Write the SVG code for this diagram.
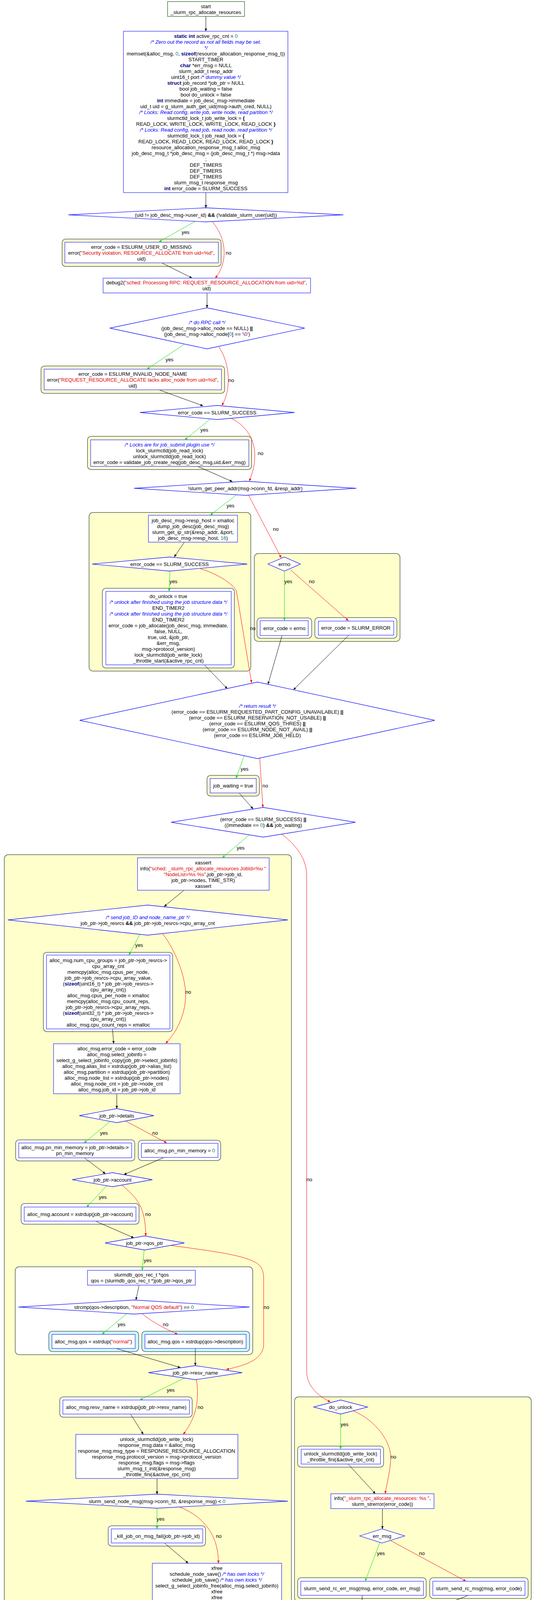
<svg xmlns="http://www.w3.org/2000/svg" width="1408" height="4334" viewBox="0 0 1408 4334">
<defs>
<style>
.t{font-family:"Liberation Sans",Arial,sans-serif;font-size:13px;text-anchor:middle;fill:#000}
.kw{font-weight:bold;fill:#000080}
.cm{font-style:italic;fill:#0000ff}
.st{fill:#dd0000}
.nu{fill:#008080}
.ch{fill:#800080}
.b{font-weight:bold}
.box{fill:#fff;stroke:#5a5aff;stroke-width:1.6}
.dia{fill:#fff;stroke:#1e1eff;stroke-width:1.3}
.cly{fill:#ffffcc;stroke:#556655;stroke-width:1.5}
.clw{fill:#fff;stroke:#556655;stroke-width:1.5}
.clc{fill:#ccffff;stroke:#556655;stroke-width:1.5}
.e{fill:none;stroke:#000;stroke-width:1}
.ey{fill:none;stroke:#00e000;stroke-width:1}
.en{fill:none;stroke:#ff0000;stroke-width:1}
</style>
<marker id="ab" markerWidth="8" markerHeight="8" refX="7" refY="3" orient="auto" markerUnits="userSpaceOnUse"><path d="M0,0 L7,3 L0,6 z" fill="#000"/></marker>
<marker id="ag" markerWidth="8" markerHeight="8" refX="7" refY="3" orient="auto" markerUnits="userSpaceOnUse"><path d="M0,0 L7,3 L0,6 z" fill="#00e000"/></marker>
<marker id="ar" markerWidth="8" markerHeight="8" refX="7" refY="3" orient="auto" markerUnits="userSpaceOnUse"><path d="M0,0 L7,3 L0,6 z" fill="#ff0000"/></marker>
</defs>
<rect x="0" y="0" width="1408" height="4334" fill="#fff"/>

<g id="clusters">
<rect class="cly" x="159" y="612" width="407" height="70" rx="9"/>
<rect class="cly" x="105" y="937" width="470" height="70" rx="9"/>
<rect class="cly" x="224" y="1117" width="420" height="85" rx="9"/>
<rect class="cly" x="228" y="1312" width="414" height="406" rx="10"/>
<rect class="clw" x="262" y="1506" width="338" height="204" rx="9"/>
<rect class="cly" x="651" y="1417" width="373" height="225" rx="10"/>
<rect class="clw" x="658" y="1582" width="140" height="52" rx="9"/>
<rect class="clw" x="806" y="1581" width="210" height="53" rx="9"/>
<rect class="cly" x="530" y="1985" width="134" height="53" rx="9"/>
<rect class="cly" x="11" y="2188" width="735" height="1950" rx="10"/>
<rect class="clw" x="111" y="2438" width="331" height="203" rx="9"/>
<rect class="clw" x="40" y="2918" width="305" height="54" rx="9"/>
<rect class="clw" x="354" y="2919" width="211" height="52" rx="9"/>
<rect class="clw" x="54" y="3081" width="302" height="53" rx="9"/>
<rect class="clw" x="39" y="3243" width="608" height="225" rx="10"/>
<rect class="clc" x="125" y="3408" width="230" height="52" rx="9"/>
<rect class="clc" x="363" y="3408" width="276" height="52" rx="9"/>
<rect class="clw" x="153" y="3576" width="339" height="52" rx="9"/>
<rect class="clw" x="277" y="3906" width="249" height="52" rx="9"/>
<rect class="cly" x="754" y="3576" width="606" height="524" rx="10"/>
<rect class="clw" x="762" y="3702" width="220" height="54" rx="9"/>
<rect class="clw" x="762" y="4039" width="329" height="53" rx="9"/>
<rect class="clw" x="1100" y="4039" width="252" height="53" rx="9"/>
</g>

<g id="connectors">
<path class="e" marker-end="url(#ab)" d="M527,42 L527,80"/>
<path class="e" marker-end="url(#ab)" d="M527,493 L527,532"/>
<path class="e" marker-end="url(#ab)" d="M414,673 L492,712"/>
<path class="e" marker-end="url(#ab)" d="M530,750 L530,788"/>
<path class="e" marker-end="url(#ab)" d="M407,998 L520,1039"/>
<path class="e" marker-end="url(#ab)" d="M506,1194 L595,1233"/>
<path class="e" marker-end="url(#ab)" d="M472,1388 L446,1426"/>
<path class="e" marker-end="url(#ab)" d="M523,1702 L582,1763"/>
<path class="e" marker-end="url(#ab)" d="M722,1627 L686,1752"/>
<path class="e" marker-end="url(#ab)" d="M893,1626 L751,1766"/>
<path class="e" marker-end="url(#ab)" d="M612,2030 L648,2071"/>
<path class="e" marker-end="url(#ab)" d="M471,2279 L420,2321"/>
<path class="e" marker-end="url(#ab)" d="M288,2634 L291,2672"/>
<path class="e" marker-end="url(#ab)" d="M299,2800 L299,2838"/>
<path class="e" marker-end="url(#ab)" d="M216,2964 L270,3005"/>
<path class="e" marker-end="url(#ab)" d="M420,2963 L317,3007"/>
<path class="e" marker-end="url(#ab)" d="M244,3126 L343,3169"/>
<path class="e" marker-end="url(#ab)" d="M356,3290 L348,3328"/>
<path class="e" marker-end="url(#ab)" d="M297,3452 L462,3501"/>
<path class="e" marker-end="url(#ab)" d="M500,3452 L500,3496"/>
<path class="e" marker-end="url(#ab)" d="M334,3620 L367,3672"/>
<path class="e" marker-end="url(#ab)" d="M402,3785 L402,3825"/>
<path class="e" marker-end="url(#ab)" d="M421,3950 L482,4002"/>
<path class="e" marker-end="url(#ab)" d="M721,4127 L900,4177"/>
<path class="e" marker-end="url(#ab)" d="M891,3748 L961,3824"/>
<path class="e" marker-end="url(#ab)" d="M979,3862 L979,3914"/>
<path class="e" marker-end="url(#ab)" d="M927,4084 L927,4167"/>
<path class="e" marker-end="url(#ab)" d="M1199,4084 L954,4179"/>
<path class="e" marker-end="url(#ab)" d="M927,4204 L927,4242"/>

<path class="ey" marker-end="url(#ag)" d="M499,567 L407,619"/>
<path class="ey" marker-end="url(#ag)" d="M471,882 L376,945"/>
<path class="ey" marker-end="url(#ag)" d="M538,1073 L473,1126"/>
<path class="ey" marker-end="url(#ag)" d="M606,1266 L538,1319"/>
<path class="ey" marker-end="url(#ag)" d="M435,1462 L433,1514"/>
<path class="ey" marker-end="url(#ag)" d="M728,1462 L728,1589"/>
<path class="ey" marker-end="url(#ag)" d="M625,1935 L604,1993"/>
<path class="ey" marker-end="url(#ag)" d="M637,2138 L569,2196"/>
<path class="ey" marker-end="url(#ag)" d="M358,2392 L330,2445"/>
<path class="ey" marker-end="url(#ag)" d="M282,2871 L215,2926"/>
<path class="ey" marker-end="url(#ag)" d="M273,3036 L222,3090"/>
<path class="ey" marker-end="url(#ag)" d="M369,3200 L364,3252"/>
<path class="ey" marker-end="url(#ag)" d="M324,3363 L261,3416"/>
<path class="ey" marker-end="url(#ag)" d="M472,3528 L358,3584"/>
<path class="ey" marker-end="url(#ag)" d="M402,3861 L402,3914"/>
<path class="ey" marker-end="url(#ag)" d="M872,3620 L872,3710"/>
<path class="ey" marker-end="url(#ag)" d="M973,3947 L935,4048"/>

<path class="en" marker-end="url(#ar)" d="M543,567 C580,610 585,670 551,712"/>
<path class="en" marker-end="url(#ar)" d="M560,888 C590,930 592,1000 568,1038"/>
<path class="en" marker-end="url(#ar)" d="M592,1071 C650,1100 668,1160 638,1232"/>
<path class="en" marker-end="url(#ar)" d="M636,1267 L720,1428"/>
<path class="en" marker-end="url(#ar)" d="M513,1456 C560,1470 595,1495 605,1512 L644,1748"/>
<path class="en" marker-end="url(#ar)" d="M744,1459 L892,1589"/>
<path class="en" marker-end="url(#ar)" d="M665,1941 L673,2067"/>
<path class="en" marker-end="url(#ar)" d="M722,2136 C760,2165 785,2200 785,2240 L785,3510 C785,3545 810,3572 846,3589"/>
<path class="en" marker-end="url(#ar)" d="M416,2390 C440,2420 470,2480 475,2537 C478,2590 455,2640 424,2671"/>
<path class="en" marker-end="url(#ar)" d="M322,2870 L427,2926"/>
<path class="en" marker-end="url(#ar)" d="M311,3033 C350,3065 373,3090 373,3164"/>
<path class="en" marker-end="url(#ar)" d="M435,3188 C560,3205 640,3215 665,3240 C673,3250 675,3260 675,3275 L675,3440 C675,3480 630,3495 579,3506"/>
<path class="en" marker-end="url(#ar)" d="M364,3363 C390,3385 420,3400 455,3416"/>
<path class="en" marker-end="url(#ar)" d="M503,3532 C508,3570 510,3620 469,3672"/>
<path class="en" marker-end="url(#ar)" d="M457,3857 C520,3880 560,3930 559,4002"/>
<path class="en" marker-end="url(#ar)" d="M903,3611 C970,3640 1005,3700 1000,3740 C998,3770 990,3800 986,3824"/>
<path class="en" marker-end="url(#ar)" d="M1000,3944 L1193,4048"/>

<g class="t">
<text class="t" x="475" y="599">yes</text>
<text class="t" x="585" y="652">no</text>
<text class="t" x="434" y="925">yes</text>
<text class="t" x="592" y="978">no</text>
<text class="t" x="523" y="1105">yes</text>
<text class="t" x="667" y="1165">no</text>
<text class="t" x="590" y="1299">yes</text>
<text class="t" x="706" y="1359">no</text>
<text class="t" x="444" y="1493">yes</text>
<text class="t" x="647" y="1613">no</text>
<text class="t" x="738" y="1493">yes</text>
<text class="t" x="798" y="1493">no</text>
<text class="t" x="626" y="1973">yes</text>
<text class="t" x="679" y="2016">no</text>
<text class="t" x="616" y="2175">yes</text>
<text class="t" x="792" y="3024">no</text>
<text class="t" x="356" y="2424">yes</text>
<text class="t" x="482" y="2544">no</text>
<text class="t" x="266" y="2905">yes</text>
<text class="t" x="397" y="2905">no</text>
<text class="t" x="263" y="3069">yes</text>
<text class="t" x="379" y="3113">no</text>
<text class="t" x="378" y="3231">yes</text>
<text class="t" x="682" y="3351">no</text>
<text class="t" x="311" y="3395">yes</text>
<text class="t" x="424" y="3395">no</text>
<text class="t" x="437" y="3563">yes</text>
<text class="t" x="513" y="3607">no</text>
<text class="t" x="411" y="3893">yes</text>
<text class="t" x="560" y="3937">no</text>
<text class="t" x="882" y="3651">yes</text>
<text class="t" x="1007" y="3734">no</text>
<text class="t" x="975" y="3981">yes</text>
<text class="t" x="1080" y="3981">no</text>
</g>
</g>

<g id="n_start">
<rect x="429" y="4" width="197" height="38" fill="#fff" stroke="#558055" stroke-width="1.6"/>
<text class="t" x="527" y="21">start</text>
<text class="t" x="527" y="36">_slurm_rpc_allocate_resources</text>
</g>

<g id="n_decl">
<rect class="box" x="316" y="80" width="421" height="413"/>
<text class="t" x="527" y="97"><tspan class="kw">static int</tspan> active_rpc_cnt = <tspan class="nu">0</tspan></text>
<text class="t cm" x="527" y="112">/* Zero out the record as not all fields may be set.</text>
<text class="t cm" x="527" y="127">*/</text>
<text class="t" x="527" y="142">memset(&amp;alloc_msg, <tspan class="nu">0</tspan>, <tspan class="kw">sizeof</tspan>(resource_allocation_response_msg_t))</text>
<text class="t" x="527" y="157">START_TIMER</text>
<text class="t" x="527" y="172"><tspan class="kw">char</tspan> *err_msg = NULL</text>
<text class="t" x="527" y="187">slurm_addr_t resp_addr</text>
<text class="t" x="527" y="202">uint16_t port <tspan class="cm">/* dummy value */</tspan></text>
<text class="t" x="527" y="217"><tspan class="kw">struct</tspan> job_record *job_ptr = NULL</text>
<text class="t" x="527" y="232">bool job_waiting = false</text>
<text class="t" x="527" y="247">bool do_unlock = false</text>
<text class="t" x="527" y="262"><tspan class="kw">int</tspan> immediate = job_desc_msg-&gt;immediate</text>
<text class="t" x="527" y="277">uid_t uid = g_slurm_auth_get_uid(msg-&gt;auth_cred, NULL)</text>
<text class="t cm" x="527" y="292">/* Locks: Read config, write job, write node, read partition */</text>
<text class="t" x="527" y="307">slurmctld_lock_t job_write_lock = <tspan class="b">{</tspan></text>
<text class="t" x="527" y="322">READ_LOCK, WRITE_LOCK, WRITE_LOCK, READ_LOCK <tspan class="b">}</tspan></text>
<text class="t cm" x="527" y="337">/* Locks: Read config, read job, read node, read partition */</text>
<text class="t" x="527" y="352">slurmctld_lock_t job_read_lock = <tspan class="b">{</tspan></text>
<text class="t" x="527" y="367">READ_LOCK, READ_LOCK, READ_LOCK, READ_LOCK <tspan class="b">}</tspan></text>
<text class="t" x="527" y="382">resource_allocation_response_msg_t alloc_msg</text>
<text class="t" x="527" y="397">job_desc_msg_t *job_desc_msg = (job_desc_msg_t *) msg-&gt;data</text>
<text class="t" x="527" y="412">;</text>
<text class="t" x="527" y="427">DEF_TIMERS</text>
<text class="t" x="527" y="442">DEF_TIMERS</text>
<text class="t" x="527" y="457">DEF_TIMERS</text>
<text class="t" x="527" y="472">slurm_msg_t response_msg</text>
<text class="t" x="527" y="487"><tspan class="kw">int</tspan> error_code = SLURM_SUCCESS</text>
</g>

<g id="d_uid">
<polygon class="dia" points="175,550 527,532 879,550 527,568"/>
<text class="t" x="527" y="555">(uid != job_desc_msg-&gt;user_id) <tspan class="b">&amp;&amp;</tspan> (!validate_slurm_user(uid))</text>
</g>

<g id="n_uid_missing">
<rect class="box" x="166" y="620" width="393" height="53"/>
<text class="t" x="362" y="637">error_code = ESLURM_USER_ID_MISSING</text>
<text class="t" x="362" y="652">error(<tspan class="st">"Security violation, RESOURCE_ALLOCATE from uid=%d"</tspan>,</text>
<text class="t" x="362" y="667">uid)</text>
</g>

<g id="n_debug2">
<rect class="box" x="264" y="712" width="531" height="38"/>
<text class="t" x="529" y="728">debug2(<tspan class="st">"sched: Processing RPC: REQUEST_RESOURCE_ALLOCATION from uid=%d"</tspan>,</text>
<text class="t" x="529" y="743">uid)</text>
</g>

<g id="d_alloc_node">
<polygon class="dia" points="281,840 530,788 780,840 530,893"/>
<text class="t cm" x="530" y="830">/* do RPC call */</text>
<text class="t" x="530" y="845">(job_desc_msg-&gt;alloc_node == NULL) <tspan class="b">||</tspan></text>
<text class="t" x="530" y="860">(job_desc_msg-&gt;alloc_node[<tspan class="nu">0</tspan>] == <tspan class="ch">'\0'</tspan>)</text>
</g>

<g id="n_invalid_node">
<rect class="box" x="113" y="945" width="454" height="53"/>
<text class="t" x="340" y="962">error_code = ESLURM_INVALID_NODE_NAME</text>
<text class="t" x="340" y="977">error(<tspan class="st">"REQUEST_RESOURCE_ALLOCATE lacks alloc_node from uid=%d"</tspan>,</text>
<text class="t" x="340" y="992">uid)</text>
</g>

<g id="d_success1">
<polygon class="dia" points="358,1056 556,1038 754,1056 556,1074"/>
<text class="t" x="556" y="1061">error_code == SLURM_SUCCESS</text>
</g>

<g id="n_validate">
<rect class="box" x="232" y="1126" width="405" height="68"/>
<text class="t cm" x="434" y="1143">/* Locks are for job_submit plugin use */</text>
<text class="t" x="434" y="1158">lock_slurmctld(job_read_lock)</text>
<text class="t" x="434" y="1173">unlock_slurmctld(job_read_lock)</text>
<text class="t" x="434" y="1188">error_code = validate_job_create_req(job_desc_msg,uid,&amp;err_msg)</text>
</g>

<g id="d_peer">
<polygon class="dia" points="343,1250 628,1232 912,1250 628,1268"/>
<text class="t" x="628" y="1255">!slurm_get_peer_addr(msg-&gt;conn_fd, &amp;resp_addr)</text>
</g>

<g id="n_resp_host">
<rect class="box" x="380" y="1319" width="228" height="69"/>
<text class="t" x="494" y="1337">job_desc_msg-&gt;resp_host = xmalloc</text>
<text class="t" x="494" y="1352">dump_job_desc(job_desc_msg)</text>
<text class="t" x="494" y="1367">slurm_get_ip_str(&amp;resp_addr, &amp;port,</text>
<text class="t" x="494" y="1382">job_desc_msg-&gt;resp_host, <tspan class="nu">16</tspan>)</text>
</g>

<g id="d_success2">
<polygon class="dia" points="236,1444 434,1426 633,1444 434,1462"/>
<text class="t" x="434" y="1449">error_code == SLURM_SUCCESS</text>
</g>

<g id="n_job_allocate">
<rect class="box" x="271" y="1514" width="321" height="188"/>
<text class="t" x="431" y="1531">do_unlock = true</text>
<text class="t cm" x="431" y="1546">/* unlock after finished using the job structure data */</text>
<text class="t" x="431" y="1561">END_TIMER2</text>
<text class="t cm" x="431" y="1576">/* unlock after finished using the job structure data */</text>
<text class="t" x="431" y="1591">END_TIMER2</text>
<text class="t" x="431" y="1606">error_code = job_allocate(job_desc_msg, immediate,</text>
<text class="t" x="431" y="1621">false, NULL,</text>
<text class="t" x="431" y="1636">true, uid, &amp;job_ptr,</text>
<text class="t" x="431" y="1651">&amp;err_msg,</text>
<text class="t" x="431" y="1666">msg-&gt;protocol_version)</text>
<text class="t" x="431" y="1681">lock_slurmctld(job_write_lock)</text>
<text class="t" x="431" y="1696">_throttle_start(&amp;active_rpc_cnt)</text>
</g>

<g id="d_errno">
<polygon class="dia" points="686,1444 728,1426 769,1444 728,1462"/>
<text class="t" x="728" y="1449">errno</text>
</g>

<g id="n_errno">
<rect class="box" x="666" y="1589" width="123" height="38"/>
<text class="t" x="728" y="1613">error_code = errno</text>
</g>

<g id="n_slurm_error">
<rect class="box" x="815" y="1590" width="193" height="36"/>
<text class="t" x="911" y="1612">error_code = SLURM_ERROR</text>
</g>

<g id="d_return">
<polygon class="dia" points="204,1844 659,1746 1113,1844 659,1942"/>
<text class="t cm" x="659" y="1812">/* return result */</text>
<text class="t" x="659" y="1827">(error_code == ESLURM_REQUESTED_PART_CONFIG_UNAVAILABLE) <tspan class="b">||</tspan></text>
<text class="t" x="659" y="1842">(error_code == ESLURM_RESERVATION_NOT_USABLE) <tspan class="b">||</tspan></text>
<text class="t" x="659" y="1857">(error_code == ESLURM_QOS_THRES) <tspan class="b">||</tspan></text>
<text class="t" x="659" y="1872">(error_code == ESLURM_NODE_NOT_AVAIL) <tspan class="b">||</tspan></text>
<text class="t" x="659" y="1887">(error_code == ESLURM_JOB_HELD)</text>
</g>

<g id="n_job_waiting">
<rect class="box" x="538" y="1993" width="118" height="37"/>
<text class="t" x="597" y="2016">job_waiting = true</text>
</g>

<g id="d_success3">
<polygon class="dia" points="438,2105 674,2067 910,2105 674,2143"/>
<text class="t" x="674" y="2102">(error_code == SLURM_SUCCESS) <tspan class="b">||</tspan></text>
<text class="t" x="674" y="2117">((immediate == <tspan class="nu">0</tspan>) <tspan class="b">&amp;&amp;</tspan> job_waiting)</text>
</g>

<g id="n_xassert">
<rect class="box" x="352" y="2196" width="337" height="83"/>
<text class="t" x="520" y="2213">xassert</text>
<text class="t" x="520" y="2228">info(<tspan class="st">"sched: _slurm_rpc_allocate_resources JobId=%u "</tspan></text>
<text class="t" x="520" y="2243"><tspan class="st">"NodeList=%s %s"</tspan>,job_ptr-&gt;job_id,</text>
<text class="t" x="520" y="2258">job_ptr-&gt;nodes, TIME_STR)</text>
<text class="t" x="520" y="2273">xassert</text>
</g>

<g id="d_job_resrcs">
<polygon class="dia" points="20,2355 378,2317 737,2355 378,2394"/>
<text class="t cm" x="378" y="2353">/* send job_ID and node_name_ptr */</text>
<text class="t" x="378" y="2368">job_ptr-&gt;job_resrcs <tspan class="b">&amp;&amp;</tspan> job_ptr-&gt;job_resrcs-&gt;cpu_array_cnt</text>
</g>

<g id="n_cpu_groups">
<rect class="box" x="119" y="2445" width="316" height="189"/>
<text class="t" x="277" y="2463">alloc_msg.num_cpu_groups = job_ptr-&gt;job_resrcs-&gt;</text>
<text class="t" x="277" y="2478">cpu_array_cnt</text>
<text class="t" x="277" y="2493">memcpy(alloc_msg.cpus_per_node,</text>
<text class="t" x="277" y="2508">job_ptr-&gt;job_resrcs-&gt;cpu_array_value,</text>
<text class="t" x="277" y="2523">(<tspan class="kw">sizeof</tspan>(uint16_t) * job_ptr-&gt;job_resrcs-&gt;</text>
<text class="t" x="277" y="2538">cpu_array_cnt))</text>
<text class="t" x="277" y="2553">alloc_msg.cpus_per_node = xmalloc</text>
<text class="t" x="277" y="2568">memcpy(alloc_msg.cpu_count_reps,</text>
<text class="t" x="277" y="2583">job_ptr-&gt;job_resrcs-&gt;cpu_array_reps,</text>
<text class="t" x="277" y="2598">(<tspan class="kw">sizeof</tspan>(uint32_t) * job_ptr-&gt;job_resrcs-&gt;</text>
<text class="t" x="277" y="2613">cpu_array_cnt))</text>
<text class="t" x="277" y="2628">alloc_msg.cpu_count_reps = xmalloc</text>
</g>

<g id="n_alloc_fields">
<rect class="box" x="137" y="2672" width="324" height="128"/>
<text class="t" x="299" y="2689">alloc_msg.error_code = error_code</text>
<text class="t" x="299" y="2704">alloc_msg.select_jobinfo =</text>
<text class="t" x="299" y="2719">select_g_select_jobinfo_copy(job_ptr-&gt;select_jobinfo)</text>
<text class="t" x="299" y="2734">alloc_msg.alias_list = xstrdup(job_ptr-&gt;alias_list)</text>
<text class="t" x="299" y="2749">alloc_msg.partition = xstrdup(job_ptr-&gt;partition)</text>
<text class="t" x="299" y="2764">alloc_msg.node_list = xstrdup(job_ptr-&gt;nodes)</text>
<text class="t" x="299" y="2779">alloc_msg.node_cnt = job_ptr-&gt;node_cnt</text>
<text class="t" x="299" y="2794">alloc_msg.job_id = job_ptr-&gt;job_id</text>
</g>

<g id="d_details">
<polygon class="dia" points="203,2856 299,2838 394,2856 299,2874"/>
<text class="t" x="299" y="2861">job_ptr-&gt;details</text>
</g>

<g id="n_pn_min_mem">
<rect class="box" x="48" y="2926" width="289" height="38"/>
<text class="t" x="192" y="2942">alloc_msg.pn_min_memory = job_ptr-&gt;details-&gt;</text>
<text class="t" x="192" y="2957">pn_min_memory</text>
</g>

<g id="n_pn_min_mem0">
<rect class="box" x="362" y="2927" width="196" height="36"/>
<text class="t" x="460" y="2950">alloc_msg.pn_min_memory = <tspan class="nu">0</tspan></text>
</g>

<g id="d_account">
<polygon class="dia" points="185,3020 288,3002 390,3020 288,3038"/>
<text class="t" x="288" y="3025">job_ptr-&gt;account</text>
</g>

<g id="n_account">
<rect class="box" x="62" y="3090" width="286" height="36"/>
<text class="t" x="205" y="3113">alloc_msg.account = xstrdup(job_ptr-&gt;account)</text>
</g>

<g id="d_qos_ptr">
<polygon class="dia" points="269,3182 370,3164 472,3182 370,3200"/>
<text class="t" x="370" y="3187">job_ptr-&gt;qos_ptr</text>
</g>

<g id="n_qos">
<rect class="box" x="224" y="3252" width="276" height="38"/>
<text class="t" x="362" y="3268">slurmdb_qos_rec_t *qos</text>
<text class="t" x="362" y="3283">qos = (slurmdb_qos_rec_t *)job_ptr-&gt;qos_ptr</text>
</g>

<g id="d_strcmp">
<polygon class="dia" points="47,3346 343,3328 639,3346 343,3364"/>
<text class="t" x="343" y="3351">strcmp(qos-&gt;description, <tspan class="st">"Normal QOS default"</tspan>) == <tspan class="nu">0</tspan></text>
</g>

<g id="n_qos_normal">
<rect class="box" x="133" y="3416" width="213" height="36"/>
<text class="t" x="239" y="3439">alloc_msg.qos = xstrdup(<tspan class="st">"normal"</tspan>)</text>
</g>

<g id="n_qos_desc">
<rect class="box" x="371" y="3416" width="259" height="36"/>
<text class="t" x="500" y="3439">alloc_msg.qos = xstrdup(qos-&gt;description)</text>
</g>

<g id="d_resv_name">
<polygon class="dia" points="380,3514 500,3496 620,3514 500,3532"/>
<text class="t" x="500" y="3519">job_ptr-&gt;resv_name</text>
</g>

<g id="n_resv_name">
<rect class="box" x="161" y="3584" width="324" height="36"/>
<text class="t" x="323" y="3607">alloc_msg.resv_name = xstrdup(job_ptr-&gt;resv_name)</text>
</g>

<g id="n_response">
<rect class="box" x="194" y="3672" width="415" height="113"/>
<text class="t" x="401" y="3689">unlock_slurmctld(job_write_lock)</text>
<text class="t" x="401" y="3704">response_msg.data = &amp;alloc_msg</text>
<text class="t" x="401" y="3719">response_msg.msg_type = RESPONSE_RESOURCE_ALLOCATION</text>
<text class="t" x="401" y="3734">response_msg.protocol_version = msg-&gt;protocol_version</text>
<text class="t" x="401" y="3749">response_msg.flags = msg-&gt;flags</text>
<text class="t" x="401" y="3764">slurm_msg_t_init(&amp;response_msg)</text>
<text class="t" x="401" y="3779">_throttle_fini(&amp;active_rpc_cnt)</text>
</g>

<g id="d_send_node_msg">
<polygon class="dia" points="66,3843 402,3825 737,3843 402,3861"/>
<text class="t" x="402" y="3848">slurm_send_node_msg(msg-&gt;conn_fd, &amp;response_msg) &lt; <tspan class="nu">0</tspan></text>
</g>

<g id="n_kill_job">
<rect class="box" x="285" y="3914" width="234" height="36"/>
<text class="t" x="402" y="3937">_kill_job_on_msg_fail(job_ptr-&gt;job_id)</text>
</g>

<g id="n_xfree_block">
<rect class="box" x="390" y="4002" width="331" height="128"/>
<text class="t" x="555" y="4019">xfree</text>
<text class="t" x="555" y="4034">schedule_node_save() <tspan class="cm">/* has own locks */</tspan></text>
<text class="t" x="555" y="4049">schedule_job_save() <tspan class="cm">/* has own locks */</tspan></text>
<text class="t" x="555" y="4064">select_g_select_jobinfo_free(alloc_msg.select_jobinfo)</text>
<text class="t" x="555" y="4079">xfree</text>
<text class="t" x="555" y="4094">xfree</text>
<text class="t" x="555" y="4109">xfree</text>
<text class="t" x="555" y="4124">xfree</text>
</g>

<g id="d_do_unlock">
<polygon class="dia" points="803,3602 872,3584 941,3602 872,3620"/>
<text class="t" x="872" y="3607">do_unlock</text>
</g>

<g id="n_unlock">
<rect class="box" x="771" y="3710" width="203" height="38"/>
<text class="t" x="872" y="3726">unlock_slurmctld(job_write_lock)</text>
<text class="t" x="872" y="3741">_throttle_fini(&amp;active_rpc_cnt)</text>
</g>

<g id="n_info">
<rect class="box" x="847" y="3824" width="264" height="38"/>
<text class="t" x="979" y="3840">info(<tspan class="st">"_slurm_rpc_allocate_resources: %s "</tspan>,</text>
<text class="t" x="979" y="3855">slurm_strerror(error_code))</text>
</g>

<g id="d_err_msg">
<polygon class="dia" points="921,3932 978,3914 1036,3932 978,3950"/>
<text class="t" x="978" y="3937">err_msg</text>
</g>

<g id="n_send_rc_err">
<rect class="box" x="770" y="4048" width="314" height="36"/>
<text class="t" x="927" y="4071">slurm_send_rc_err_msg(msg, error_code, err_msg)</text>
</g>

<g id="n_send_rc">
<rect class="box" x="1108" y="4048" width="236" height="36"/>
<text class="t" x="1226" y="4071">slurm_send_rc_msg(msg, error_code)</text>
</g>

<g id="n_xfree">
<rect class="box" x="900" y="4167" width="54" height="37"/>
<text class="t" x="927" y="4190">xfree</text>
</g>

<g id="n_end">
<rect x="900" y="4242" width="54" height="36" fill="#fff" stroke="#c08080" stroke-width="1.6"/>
<text class="t" x="927" y="4265">end</text>
</g>
</svg>
